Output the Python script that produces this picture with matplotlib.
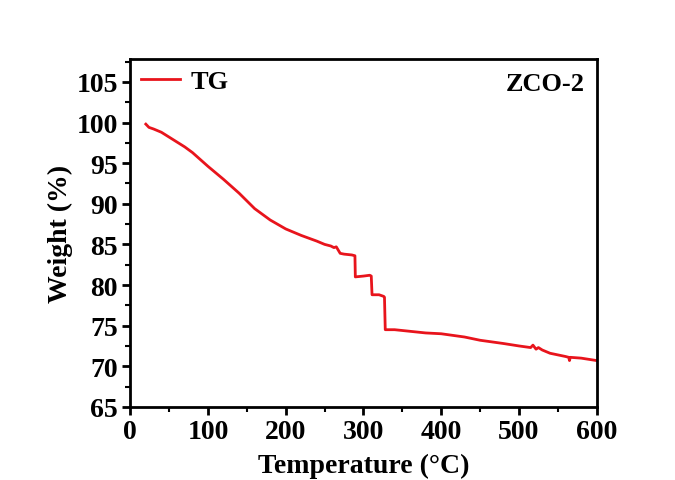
import matplotlib.pyplot as plt
from matplotlib.ticker import MultipleLocator

plt.rcParams['font.family'] = ['Liberation Serif', 'DejaVu Serif']
plt.rcParams['font.weight'] = 'bold'

# TG curve (temperature in degC, weight in %)
temperature = [20, 24, 30, 40, 50, 60, 70, 80, 100, 120, 140, 160, 180, 200, 220, 240,
               250, 258, 262, 265, 270, 275, 285, 289, 289.5, 300, 308, 310, 311,
               320, 326, 327, 328, 340, 360, 380, 400, 430, 450, 480, 500, 515, 518,
               522, 525, 530, 540, 560, 564, 565, 566, 580, 600]
weight = [99.8, 99.4, 99.2, 98.8, 98.2, 97.6, 97.0, 96.3, 94.6, 93.0, 91.3, 89.4, 88.0,
          86.9, 86.1, 85.4, 85.0, 84.8, 84.6, 84.7, 83.9, 83.8, 83.7, 83.6, 81.0,
          81.1, 81.2, 81.1, 78.8, 78.8, 78.6, 78.5, 74.5, 74.5, 74.3, 74.1, 74.0,
          73.6, 73.2, 72.8, 72.5, 72.3, 72.6, 72.1, 72.3, 72.0, 71.6, 71.2, 71.1,
          70.7, 71.1, 71.0, 70.7]

fig = plt.figure(figsize=(6.75, 4.81), dpi=100)
ax = fig.add_axes([0.193, 0.152, 0.691, 0.723])

ax.plot(temperature, weight, color='#e8141c', lw=2, label='TG')

ax.set_xlim(0, 600)
ax.set_ylim(65, 107.8)
ax.xaxis.set_major_locator(MultipleLocator(100))
ax.xaxis.set_minor_locator(MultipleLocator(50))
ax.yaxis.set_major_locator(MultipleLocator(5))
ax.yaxis.set_minor_locator(MultipleLocator(2.5))
ax.tick_params(which='major', direction='out', length=6, width=2, labelsize=20, pad=3)
ax.tick_params(which='minor', direction='out', length=3.5, width=1.5)
for s in ax.spines.values():
    s.set_linewidth(2)

ax.set_xlabel('Temperature (°C)', fontsize=20, fontweight='bold', labelpad=6)
ax.set_ylabel('Weight (%)', fontsize=20, fontweight='bold', labelpad=2)

ax.legend(loc='upper left', frameon=False, handlelength=1.5,
          borderaxespad=0.3, borderpad=0.1, handletextpad=0.4,
          prop={'weight': 'bold', 'size': 19})
ax.text(0.975, 0.93, 'ZCO-2', transform=ax.transAxes, ha='right', va='center',
        fontsize=19, fontweight='bold')

plt.savefig('out.png', dpi=100)
